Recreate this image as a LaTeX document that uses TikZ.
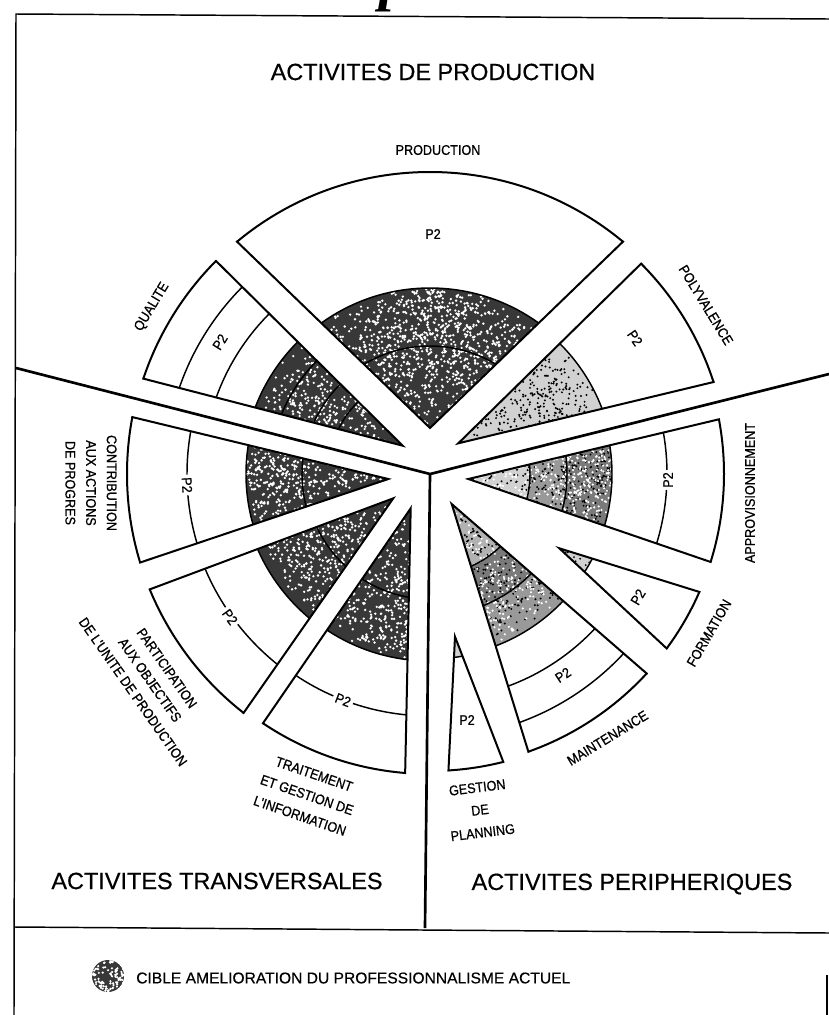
\documentclass[tikz,border=0pt]{standalone}
\usepackage{fontspec}
\setmainfont{Liberation Sans}[FakeBold=0.5]
\newfontfamily\lblfont{Liberation Sans}[FakeStretch=0.9, FakeBold=0.8]
\newfontfamily\headserif{Liberation Serif}
\usetikzlibrary{calc}

% one exploded sector: apex, two edge angles, outer radius, inner fills/rings
\newcommand\pieWedge[5]{%
  \begin{scope}
    \clip (#1) -- ($(#1)+(#2:900)$) -- ($(#1)+(#3:900)$) -- cycle;
    #5
    \draw[outline] (C) circle [radius=#4];
  \end{scope}
  \begin{scope}
    \clip (C) circle [radius={#4+1}];
    \draw[outline] ($(#1)+(#2:900)$) -- (#1) -- ($(#1)+(#3:900)$);
  \end{scope}}
\newcommand\ringsAt[1]{\foreach \rr in {#1} {\draw[ring] (C) circle [radius=\rr];}}
% random grain inside a disc sector around C: colour, max radius, angle range, count, grain size
\newcommand\grain[6]{%
  \fill[#1] \foreach \k in {1,...,#5} {(C) ++({#3+rnd*(#4-#3)}:{#2*sqrt(rnd)}) circle [radius=#6]};}

\begin{document}
\pgfmathsetseed{4217}
\begin{tikzpicture}[x=0.75pt,y=-0.75pt,
  outline/.style={line width=1.5pt, line join=miter},
  ring/.style={line width=1.1pt},
  divider/.style={line width=2pt},
  frame/.style={line width=1.1pt},
  dark/.style={fill=black!78},
  darkish/.style={fill=black!52},
  mid/.style={fill=black!40},
  light/.style={fill=black!30},
  pale/.style={fill=black!18},
  title/.style={font=\fontsize{17.6pt}{20pt}\selectfont, inner sep=0pt},
  legend/.style={font=\fontsize{11.7pt}{14pt}\selectfont, inner sep=0pt},
  lbl/.style={font=\lblfont\fontsize{10.5pt}{15.5pt}\selectfont, inner sep=0pt, align=center},
  ptwo/.style={font=\lblfont\fontsize{10.5pt}{12pt}\selectfont, inner sep=0pt},
  ptwocut/.style={ptwo, fill=white, inner sep=2pt},
]
\useasboundingbox (0,0) rectangle (829,1015);
\coordinate (C) at (430,474);

% frame, dividers and legend band
\draw[frame] (829,19) -- (16,14) -- (14,1015);
\draw[frame] (827,975) -- (827,1015);
\coordinate (leftEnd) at (16,368);
\coordinate (rightEnd) at (829,374);
\coordinate (downEnd) at (425,928);
\draw[divider] (leftEnd) -- (C) -- (rightEnd);
\draw[divider] (C) -- (downEnd);
\coordinate (bandL) at (15,927);
\coordinate (bandR) at (829,933);
\draw[frame] (bandL) -- (bandR);

% clipped initial of the page heading (only its descender falls on the page)
\node[font=\headserif\bfseries\itshape\fontsize{44pt}{48pt}\selectfont, anchor=base, inner sep=0pt] (headp) at (394,-1) {p};

% apex points
\coordinate (aProd) at (430,428);
\coordinate (aQual) at (402.7,445.7);
\coordinate (aPoly) at (458.3,443.3);
\coordinate (aCont) at (388.3,479);
\coordinate (aPart) at (393.3,498.3);
\coordinate (aTrai) at (410.7,508.3);
\coordinate (aAppr) at (468.3,479);
\coordinate (aForm) at (559.3,548.3);
\coordinate (aMain) at (451.7,504);
\coordinate (aGest) at (455,636.7);

% production activities
\pieWedge{aProd}{-44}{-136}{302}{\fill[dark] (C) circle [radius=186];
  \grain{white}{186}{-140}{-40}{1400}{1.3} \ringsAt{128,186}}
\pieWedge{aQual}{-135.3}{-165.5}{302}{\fill[dark] (C) circle [radius=187];
  \grain{white}{187}{-166}{-125}{560}{1.3} \ringsAt{102,127,160,187,227,265}}
\pieWedge{aPoly}{-44.5}{-13.5}{298}{\fill[pale] (C) circle [radius=184];
  \grain{black}{184}{-50}{-8}{650}{1.1} \ringsAt{184}}

% cross-functional activities
\pieWedge{aCont}{-166.4}{-198.6}{303}{\fill[dark] (C) circle [radius=184];
  \grain{white}{184}{-200}{-160}{560}{1.3} \ringsAt{128,184,243}}
\pieWedge{aPart}{-200.5}{-235.1}{303}{\fill[dark] (C) circle [radius=188];
  \grain{white}{188}{-240}{-195}{650}{1.3} \ringsAt{125,188,244}}
\pieWedge{aTrai}{-235.5}{-268.8}{300}{\fill[dark] (C) circle [radius=187];
  \grain{white}{187}{-272}{-230}{600}{1.3} \ringsAt{125,187,242}}

% peripheral activities
\pieWedge{aAppr}{-13.4}{18.9}{294}{\fill[darkish] (C) circle [radius=182]; \fill[mid] (C) circle [radius=137]; \fill[pale] (C) circle [radius=100];
  \grain{black}{182}{-18}{24}{450}{1.1} \grain{white}{182}{-18}{24}{500}{1.2} \ringsAt{100,137,182,237}}
\pieWedge{aForm}{17.3}{43}{294}{\fill[pale] (C) circle [radius=183];
  \grain{black}{183}{17}{45}{300}{1.0} \ringsAt{183}}
\pieWedge{aMain}{41}{72.8}{294.5}{\fill[mid] (C) circle [radius=184]; \fill[darkish] (C) circle [radius=142]; \fill[light] (C) circle [radius=101];
  \grain{black}{184}{36}{78}{450}{1.1} \grain{white}{184}{36}{78}{500}{1.2} \ringsAt{101,142,184,226,264}}
\pieWedge{aGest}{68.9}{92.8}{297}{\fill[pale] (C) circle [radius=185];
  \grain{black}{185}{70}{95}{200}{1.0} \ringsAt{185}}

% level marks
\node[ptwo] (pProd) at (433,234) {P2};
\node[ptwo, rotate=58] (pQual) at (220,342) {P2};
\node[ptwo, rotate=-56] (pPoly) at (635,338) {P2};
\node[ptwocut, rotate=-87] (pCont) at (187,485) {P2};
\node[ptwocut, rotate=-54.5] (pPart) at (230,617) {P2};
\node[ptwocut, rotate=-21] (pTrai) at (343,700) {P2};
\node[ptwocut, rotate=90] (pAppr) at (668,480) {P2};
\node[ptwo, rotate=59.5] (pForm) at (638,597) {P2};
\node[ptwo, rotate=33.6] (pMain) at (563,675) {P2};
\node[ptwo] (pGest) at (467,720) {P2};

% activity names
\node[lbl] (lProd) at (438,150) {PRODUCTION};
\node[lbl, rotate=59] (lQual) at (152,307) {QUALITE};
\node[lbl, rotate=-58.5] (lPoly) at (706,305) {POLYVALENCE};
\node[lbl, rotate=-90] (lCont) at (91,483) {CONTRIBUTION\\AUX ACTIONS\\DE PROGRES};
\node[lbl, rotate=-55] (lPart) at (150,680) {PARTICIPATION\\AUX OBJECTIFS\\DE L'UNITE DE PRODUCTION};
\node[lbl, rotate=-19, font=\lblfont\fontsize{10.5pt}{16.5pt}\selectfont] (lTrai) at (307,795) {TRAITEMENT\\ET GESTION DE\\L'INFORMATION};
\node[lbl, rotate=90] (lAppr) at (750,493) {APPROVISIONNEMENT};
\node[lbl, rotate=60] (lForm) at (709,633) {FORMATION};
\node[lbl, rotate=31.5] (lMain) at (607.5,738) {MAINTENANCE};
\node[lbl, rotate=7, font=\lblfont\fontsize{10.5pt}{17pt}\selectfont] (lGest) at (480,810) {GESTION\\DE\\PLANNING};

% sector headings
\node[title] (tProd) at (433,72) {ACTIVITES DE PRODUCTION};
\node[title] (tTrans) at (217,881) {ACTIVITES TRANSVERSALES};
\node[title] (tPeri) at (632,884) {ACTIVITES PERIPHERIQUES};

% legend
\coordinate (legDot) at (108,976);
\begin{scope}
  \clip (legDot) circle [radius=16];
  \fill[black!78] (legDot) circle [radius=16];
  \fill[white] \foreach \k in {1,...,90} {(legDot) ++({rnd*360}:{16*sqrt(rnd)}) circle [radius=1.2]};
\end{scope}
\node[legend, anchor=west] (legText) at (136,978) {CIBLE AMELIORATION DU PROFESSIONNALISME ACTUEL};
\end{tikzpicture}
\end{document}
